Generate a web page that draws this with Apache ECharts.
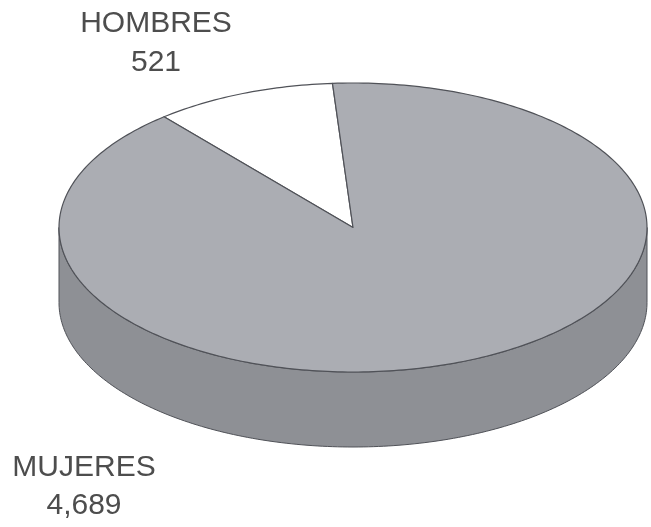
<!DOCTYPE html>
<html>
<head>
<meta charset="utf-8">
<script src="https://cdn.jsdelivr.net/npm/echarts@6/dist/echarts.min.js"></script>
<style>
html,body{margin:0;padding:0;background:#fff;}
#c{width:651px;height:527px;}
</style>
</head>
<body>
<div id="c"></div>
<script>
// ---- data ----
var categories = ['HOMBRES', 'MUJERES'];
var values = [521, 4689];

// ---- layout / style ----
var CX = 353, CY = 227.5, RX = 294, RY = 144.5, DEPTH = 75;
var START_ANGLE = 94; // parametric degrees, counter-clockwise
var topColors = ['#ffffff', '#abadb3'];
var sideColor = '#8e9095';
var edgeColor = '#505258';
var labelPos = [[156, 24, 62.5], [84, 467.5, 506]];

var total = values.reduce(function (a, b) { return a + b; }, 0);

function pt(tDeg, dy) {
  var t = tDeg * Math.PI / 180;
  return [CX + RX * Math.cos(t), CY - RY * Math.sin(t) + (dy || 0)];
}
function arcPts(a0, a1, dy) {
  var pts = [];
  var n = Math.max(2, Math.ceil(Math.abs(a1 - a0) / 1));
  for (var i = 0; i <= n; i++) pts.push(pt(a0 + (a1 - a0) * i / n, dy));
  return pts;
}
// front half intervals (sin t < 0): t in (180, 360) mod 360
function frontIntervals(a0, a1) {
  var res = [];
  for (var k = -1; k <= 2; k++) {
    var f0 = 180 + 360 * k, f1 = 360 + 360 * k;
    var s = Math.max(a0, f0), e = Math.min(a1, f1);
    if (e > s) res.push([s, e]);
  }
  return res;
}

var chart = echarts.init(document.getElementById('c'), null, {renderer: 'canvas'});
chart.setOption({
  backgroundColor: '#ffffff',
  animation: false,
  series: [{
    type: 'custom',
    coordinateSystem: 'none',
    data: values.map(function (v, i) { return [v, i]; }),
    renderItem: function (params, api) {
      var idx = params.dataIndex;
      var before = 0;
      for (var i = 0; i < idx; i++) before += values[i];
      var a0 = START_ANGLE + 360 * before / total;
      var a1 = a0 + 360 * api.value(0) / total;
      var children = [];
      frontIntervals(a0, a1).forEach(function (iv) {
        var top = arcPts(iv[0], iv[1], 0);
        var bot = arcPts(iv[1], iv[0], DEPTH);
        children.push({
          type: 'polygon', z2: 1,
          shape: {points: top.concat(bot)},
          style: {fill: sideColor, stroke: edgeColor, lineWidth: 1}
        });
      });
      var pts = [[CX, CY]].concat(arcPts(a0, a1, 0));
      children.push({
        type: 'polygon', z2: 5,
        shape: {points: pts},
        style: {fill: topColors[idx], stroke: edgeColor, lineWidth: 1.2, lineJoin: 'round'}
      });
      var lp = labelPos[idx];
      children.push({
        type: 'text', z2: 10,
        style: {text: categories[idx], x: lp[0], y: lp[1], fill: '#4d4d4d',
          font: '30px "Liberation Sans", Arial, sans-serif', align: 'center', verticalAlign: 'middle'}
      });
      children.push({
        type: 'text', z2: 10,
        style: {text: Number(api.value(0)).toLocaleString('en-US'), x: lp[0], y: lp[2], fill: '#4d4d4d',
          font: '30px "Liberation Sans", Arial, sans-serif', align: 'center', verticalAlign: 'middle'}
      });
      return {type: 'group', children: children};
    }
  }]
});
</script>
</body>
</html>
